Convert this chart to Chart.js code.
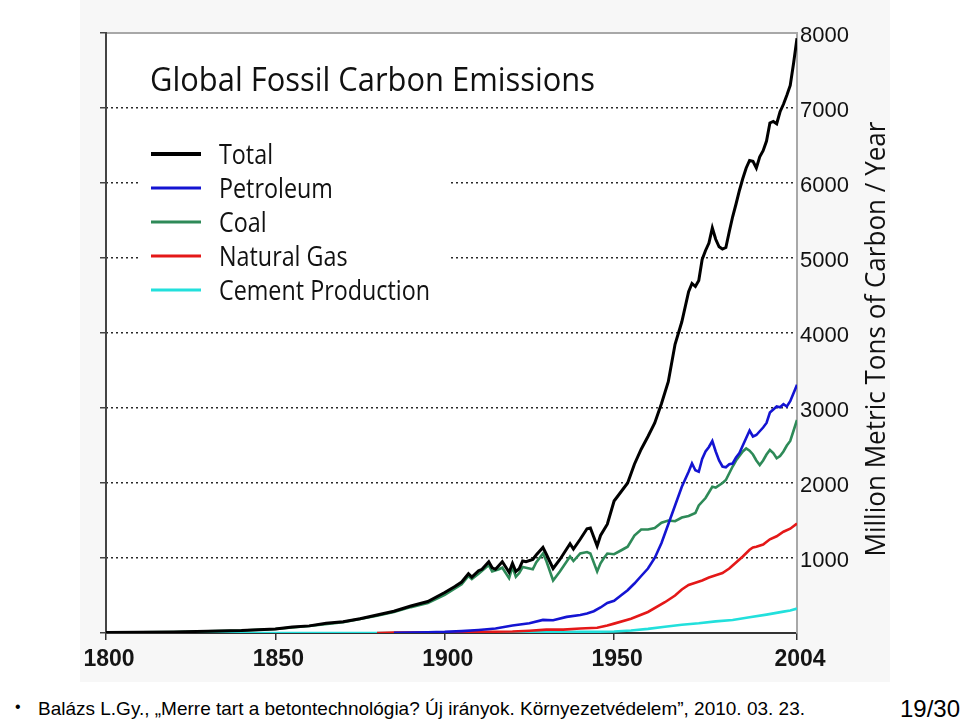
<!DOCTYPE html>
<html>
<head>
<meta charset="utf-8">
<title>Global Fossil Carbon Emissions</title>
<script src="https://cdn.jsdelivr.net/npm/chart.js@4.4.0/dist/chart.umd.min.js"></script>
<style>
  body { margin: 0; width: 960px; height: 722px; overflow: hidden; position: relative; background: #fff;
         font-family: "Liberation Sans", Arial, sans-serif; color: #000; }
  #plot { position: absolute; left: 0; top: 0; }
  .foot { position: absolute; white-space: nowrap; }
  #bullet { left: 15px; top: 698px; font-size: 16px; }
  #cite { left: 38px; top: 698px; font-size: 19px; transform-origin: 0 0; }
  #page { left: 900px; top: 695px; font-size: 24px; transform-origin: 0 0; }
</style>
</head>
<body>
<canvas id="plot" width="960" height="690"></canvas>
<div class="foot" id="bullet">•</div>
<div class="foot" id="cite">Balázs L.Gy., „Merre tart a betontechnológia? Új irányok. Környezetvédelem”, 2010. 03. 23.</div>
<div class="foot" id="page">19/30</div>
<script>
// values, million metric tons of carbon per year
const totalYears = [1800, 1810, 1820, 1830, 1840, 1850, 1855, 1860, 1865, 1870, 1875, 1880, 1885, 1890, 1895,
  1900, 1903, 1905, 1907, 1908, 1910, 1911, 1913, 1914, 1915, 1916, 1917, 1919, 1920, 1921, 1922, 1923, 1924,
  1926, 1927, 1929, 1930, 1932, 1934, 1937, 1938, 1940, 1942, 1943, 1945, 1946, 1948, 1950, 1952, 1954, 1956,
  1958, 1960, 1962, 1964, 1966, 1968, 1970, 1972, 1973, 1974, 1975, 1976, 1977, 1978, 1979, 1980, 1981, 1982,
  1983, 1984, 1985, 1986, 1987, 1988, 1989, 1990, 1991, 1992, 1993, 1994, 1995, 1996, 1997, 1998, 1999, 2000,
  2001, 2002, 2003, 2004];
const totalValues = [8, 10, 14, 24, 33, 54, 80, 95, 130, 150, 190, 240, 290, 360, 420,
  540, 620, 680, 790, 745, 830, 850, 950, 870, 850, 900, 950, 810, 930, 820, 860, 960, 950,
  980, 1040, 1140, 1050, 860, 980, 1190, 1120, 1250, 1390, 1400, 1160, 1300, 1450, 1760, 1880, 2000, 2250,
  2450, 2620, 2800, 3060, 3350, 3850, 4150, 4550, 4660, 4620, 4700, 4980, 5100, 5200, 5400, 5250, 5150, 5120,
  5140, 5350, 5550, 5720, 5900, 6060, 6200, 6300, 6290, 6200, 6350, 6430, 6560, 6800, 6820, 6790, 6950, 7050,
  7170, 7300, 7600, 7930];

const petroleumYears = [1885, 1890, 1895, 1900, 1905, 1910, 1915, 1920, 1925, 1929, 1932, 1936, 1940, 1942, 1944,
  1946, 1948, 1950, 1952, 1954, 1956, 1958, 1960, 1962, 1964, 1966, 1968, 1970, 1972, 1973, 1974, 1975, 1976,
  1977, 1978, 1979, 1980, 1981, 1982, 1983, 1984, 1985, 1986, 1987, 1988, 1989, 1990, 1991, 1992, 1993, 1994,
  1995, 1996, 1997, 1998, 1999, 2000, 2001, 2002, 2003, 2004];
const petroleumValues = [3, 5, 10, 15, 25, 40, 60, 100, 130, 175, 170, 215, 240, 260, 290,
  340, 400, 430, 500, 570, 660, 760, 860, 1000, 1200, 1450, 1700, 1950, 2150, 2260, 2170, 2150, 2320,
  2420, 2480, 2560, 2420, 2300, 2220, 2210, 2250, 2260, 2340, 2400, 2500, 2600, 2700, 2620, 2640, 2690, 2740,
  2800, 2940, 2980, 3020, 3010, 3050, 3020, 3090, 3200, 3310];

const coalYears = [1800, 1810, 1820, 1830, 1840, 1850, 1860, 1870, 1880, 1885, 1890, 1895, 1900, 1905, 1907,
  1908, 1910, 1913, 1914, 1916, 1917, 1919, 1920, 1921, 1922, 1923, 1924, 1926, 1927, 1929, 1930, 1932, 1934,
  1937, 1938, 1940, 1942, 1943, 1945, 1946, 1947, 1948, 1950, 1952, 1954, 1956, 1958, 1960, 1962, 1964, 1966,
  1968, 1970, 1972, 1974, 1975, 1977, 1979, 1980, 1982, 1983, 1985, 1986, 1988, 1989, 1990, 1991, 1992, 1993,
  1994, 1995, 1996, 1997, 1998, 1999, 2000, 2001, 2002, 2003, 2004];
const coalValues = [8, 10, 14, 24, 33, 54, 93, 145, 230, 280, 345, 400, 510, 650, 760,
  720, 790, 905, 820, 850, 870, 730, 880, 750, 800, 880, 870, 850, 940, 1060, 960, 700, 820,
  1020, 960, 1060, 1080, 1060, 820, 930, 1000, 1060, 1050, 1100, 1150, 1300, 1380, 1380, 1400, 1470, 1500,
  1490, 1540, 1560, 1600, 1700, 1800, 1950, 1940, 2000, 2040, 2220, 2300, 2420, 2460, 2430, 2380, 2300, 2240,
  2300, 2380, 2440, 2400, 2330, 2360, 2420, 2500, 2560, 2700, 2840];

const gasYears = [1880, 1885, 1900, 1910, 1920, 1925, 1930, 1935, 1940, 1945, 1948, 1950, 1955, 1960, 1965,
  1968, 1970, 1972, 1974, 1976, 1978, 1980, 1982, 1984, 1986, 1988, 1990, 1991, 1992, 1994, 1996, 1998, 2000,
  2002, 2004];
const gasValues = [0, 5, 10, 15, 20, 30, 45, 45, 60, 70, 100, 125, 190, 280, 410,
  500, 580, 640, 670, 700, 740, 770, 800, 860, 940, 1020, 1110, 1140, 1150, 1180, 1250, 1290, 1350,
  1390, 1460];

const cementYears = [1800, 1900, 1920, 1928, 1940, 1945, 1950, 1955, 1960, 1965, 1970, 1975, 1980, 1985, 1990,
  1995, 2000, 2002, 2004];
const cementValues = [0, 0, 5, 10, 15, 17, 20, 33, 55, 84, 110, 129, 155, 173, 210,
  245, 285, 300, 325];

const seriesNames = ["Total", "Petroleum", "Coal", "Natural Gas", "Cement Production"];
const xTickYears = [1800, 1850, 1900, 1950, 2004];
const yTickValues = [0, 1000, 2000, 3000, 4000, 5000, 6000, 7000, 8000];

const chartTitle = "Global Fossil Carbon Emissions";
const yAxisTitle = "Million Metric Tons of Carbon / Year";

const colors = ["#000000", "#1414d2", "#2e8a58", "#e41818", "#22e0dc"];
const widths = [3, 2.6, 2.6, 2.6, 2.6];

function points(years, values) {
  return years.map((x, i) => ({ x: x, y: values[i] }));
}

const seriesData = [
  points(totalYears, totalValues),
  points(petroleumYears, petroleumValues),
  points(coalYears, coalValues),
  points(gasYears, gasValues),
  points(cementYears, cementValues)
];

const humanist = '"Open Sans", "Noto Sans", sans-serif';

// gray picture backdrop, white plot, white legend patch over the grid
const backdrop = {
  id: "backdrop",
  beforeDraw(chart) {
    const { ctx, chartArea: a } = chart;
    ctx.save();
    ctx.fillStyle = "#f7f7f7";
    ctx.fillRect(80, 0, 810, 682);
    ctx.fillStyle = "#ffffff";
    ctx.fillRect(a.left, a.top, a.right - a.left, a.bottom - a.top);
    ctx.restore();
  },
  beforeDatasetsDraw(chart) {
    const ctx = chart.ctx;
    ctx.save();
    ctx.fillStyle = "#ffffff";
    ctx.fillRect(140, 120, 310, 195);
    ctx.restore();
  }
};

function fitText(ctx, text, x, y, width) {
  const w = ctx.measureText(text).width;
  ctx.save();
  ctx.translate(x, y);
  ctx.scale(width / w, 1);
  ctx.fillText(text, 0, 0);
  ctx.restore();
}

const annotations = {
  id: "annotations",
  afterDraw(chart) {
    const ctx = chart.ctx;
    ctx.save();
    ctx.fillStyle = "#111";
    ctx.textBaseline = "alphabetic";
    ctx.textAlign = "left";

    ctx.font = "32px " + humanist;
    fitText(ctx, chartTitle, 150, 91, 445);

    // legend
    ctx.font = "27px " + humanist;
    const scale = 211 / ctx.measureText(seriesNames[4]).width;
    chart.data.datasets.forEach((ds, i) => {
      const y = 154 + i * 34;
      ctx.strokeStyle = ds.borderColor;
      ctx.lineWidth = i === 0 ? 4 : 3;
      ctx.beginPath();
      ctx.moveTo(151, y);
      ctx.lineTo(201, y);
      ctx.stroke();
      ctx.save();
      ctx.translate(219, y + 10);
      ctx.scale(scale, 1);
      ctx.fillText(ds.label, 0, 0);
      ctx.restore();
    });

    // y axis title, reading upwards on the right
    ctx.font = "28px " + humanist;
    ctx.translate(877, 339);
    ctx.rotate(-Math.PI / 2);
    ctx.textBaseline = "middle";
    const tw = ctx.measureText(yAxisTitle).width;
    ctx.scale(435 / tw, 1);
    ctx.textAlign = "center";
    ctx.fillText(yAxisTitle, 0, 0);
    ctx.restore();
  }
};

const setTicks = values => axis => { axis.ticks = values.map(v => ({ value: v })); };

new Chart(document.getElementById("plot"), {
  type: "line",
  data: {
    datasets: seriesNames.map((name, i) => ({
      label: name,
      data: seriesData[i],
      borderColor: colors[i],
      borderWidth: widths[i],
      pointRadius: 0,
      tension: 0,
      fill: false,
      xAxisID: "x",
      yAxisID: "y"
    }))
  },
  options: {
    responsive: false,
    animation: false,
    devicePixelRatio: 1,
    layout: { padding: { top: 33, left: 0, right: 0, bottom: 0 } },
    plugins: {
      legend: { display: false },
      title: { display: false },
      tooltip: { enabled: false }
    },
    scales: {
      x: {
        type: "linear",
        position: "bottom",
        min: 1800,
        max: 2004,
        afterBuildTicks: setTicks(xTickYears),
        ticks: {
          callback: v => String(v),
          font: { family: "Liberation Sans", size: 23, weight: "bold" },
          color: "#151515",
          padding: 6,
          labelOffset: 3,
          maxRotation: 0
        },
        grid: { drawOnChartArea: false, drawTicks: true, tickLength: 7, color: "#333", lineWidth: 1.5 },
        border: { color: "#333", width: 2 },
        afterFit: s => { s.height = 57; }
      },
      xt: {
        type: "linear",
        position: "top",
        min: 1800,
        max: 2004,
        ticks: { display: false },
        grid: { display: false },
        border: { color: "#a8a8a8", width: 2 },
        afterFit: s => { s.height = 0; }
      },
      y: {
        position: "right",
        min: 0,
        max: 8000,
        afterBuildTicks: setTicks(yTickValues),
        ticks: {
          callback: v => (v === 0 ? "" : String(v)),
          font: { family: "Liberation Sans", size: 22 },
          color: "#111",
          padding: 3,
          labelOffset: 3
        },
        grid: {
          color: c => (c.tick && (c.tick.value === 0 || c.tick.value === 8000)) ? "rgba(0,0,0,0)" : "#2a2a2a",
          lineWidth: 1.6,
          drawTicks: false
        },
        border: { color: "#a8a8a8", width: 2, dash: [2, 3] },
        afterFit: s => { s.width = 163; }
      },
      yl: {
        position: "left",
        min: 0,
        max: 8000,
        afterBuildTicks: setTicks(yTickValues),
        ticks: { display: false },
        grid: { drawOnChartArea: false, drawTicks: true, tickLength: 6, color: "#444", lineWidth: 1.5 },
        border: { color: "#444", width: 2 },
        afterFit: s => { s.width = 106; }
      }
    }
  },
  plugins: [backdrop, annotations]
});

// squeeze the citation line to the narrow width it has on the slide
const cite = document.getElementById("cite");
cite.style.transform = "scaleX(" + (767 / cite.getBoundingClientRect().width) + ")";
</script>
</body>
</html>
